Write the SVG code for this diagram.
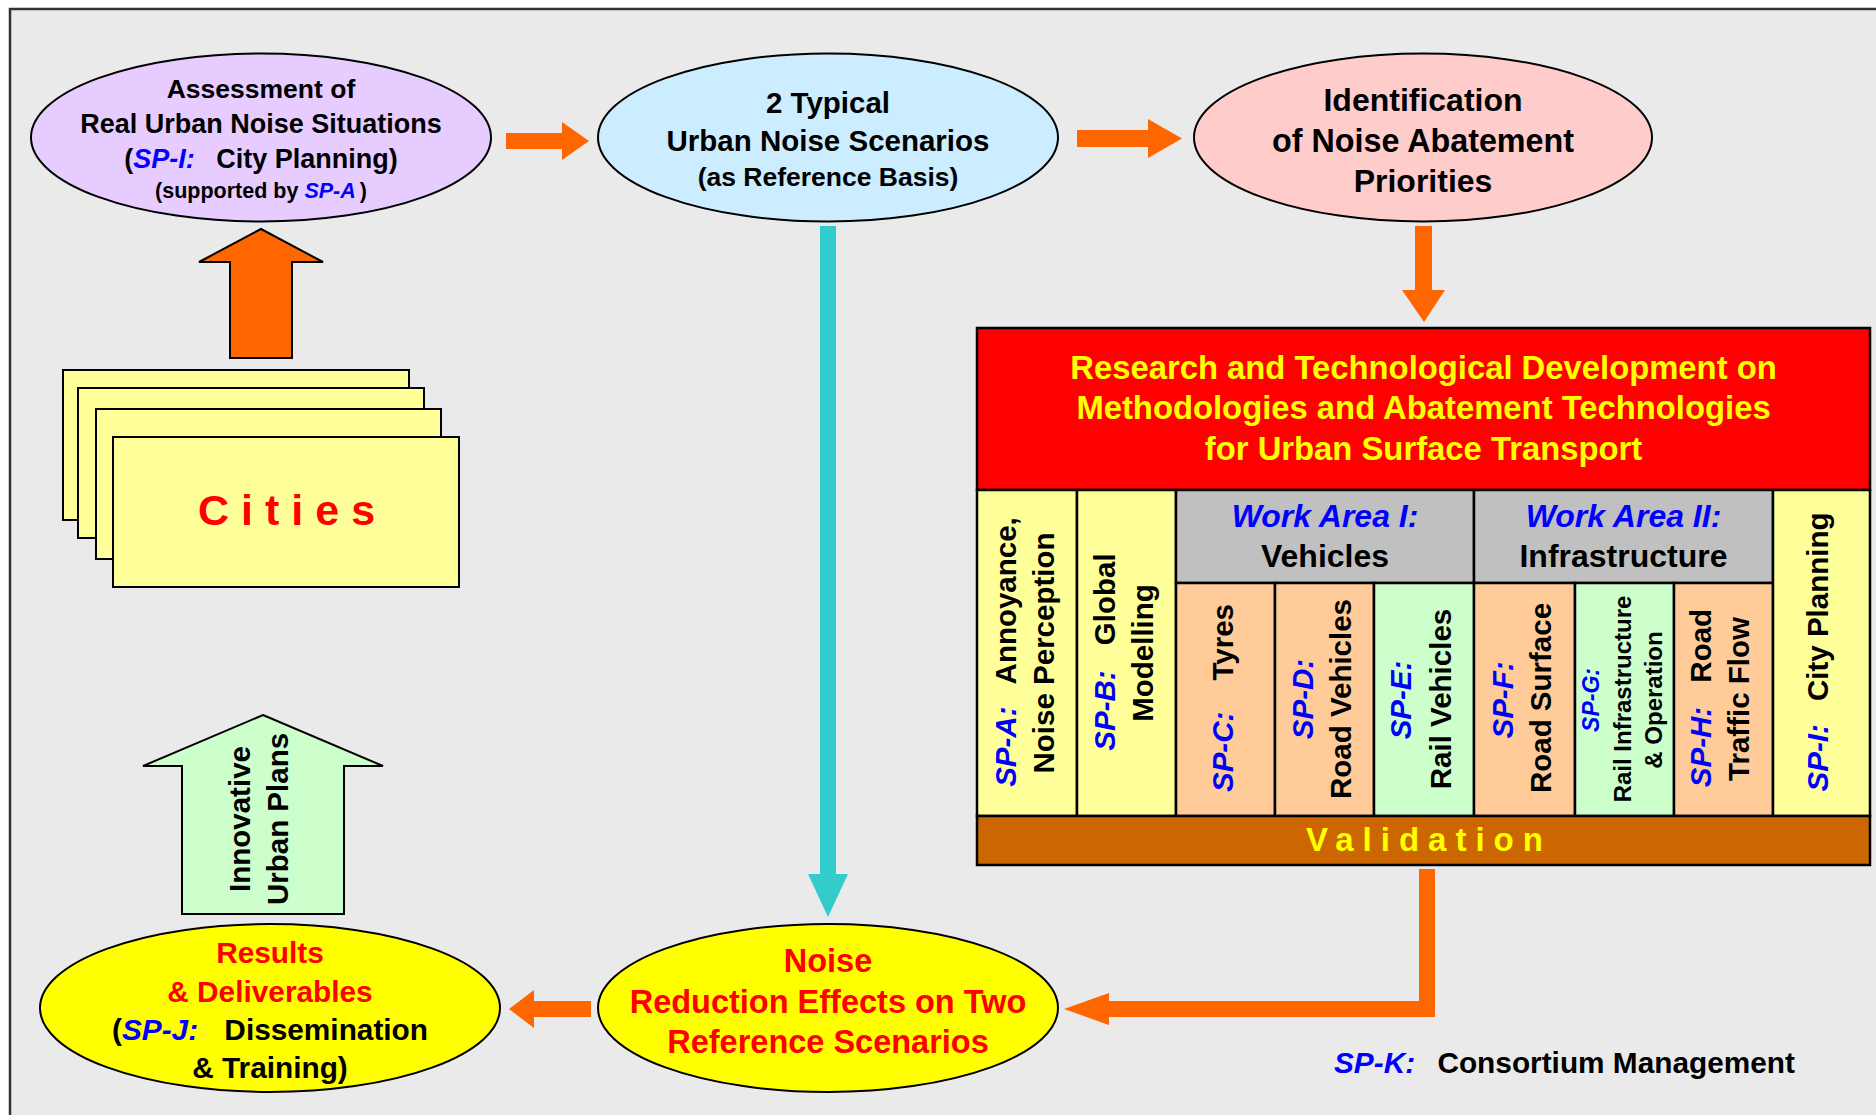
<svg xmlns="http://www.w3.org/2000/svg" width="1876" height="1115" viewBox="0 0 1876 1115">
<style>
text{font-family:"Liberation Sans",Arial,sans-serif;font-weight:bold;fill:#000}
.sp{fill:#0000FF;font-style:italic}
.red{fill:#FF0000}
.yel{fill:#FFFF00}
.nd{stroke:#000;stroke-width:2}
.cell{stroke:#000;stroke-width:2.5}
.or{fill:#FF6600}
.c29{font-size:29.5px}
</style>
<rect x="0" y="0" width="1876" height="1115" fill="#FFFFFF"/>
<rect x="10" y="9" width="1900" height="1200" fill="#EAEAEA" stroke="#333" stroke-width="2.5"/>

<g id="connectors">
  <polygon class="or" points="506,133 562,133 562,122 589,141 562,160 562,149 506,149"/>
  <polygon class="or" points="1077,130 1148,130 1148,119 1182,138.5 1148,158 1148,147 1077,147"/>
  <polygon class="or" points="1415,226 1432,226 1432,290 1445,290 1424,322 1402,290 1415,290"/>
  <polygon fill="#33CCCC" points="820,226 836,226 836,874 848,874 828,917 808,874 820,874"/>
  <polygon class="or" points="1419,869 1435,869 1435,1017 1109,1017 1109,1025 1064,1009 1109,993 1109,1001 1419,1001"/>
  <polygon class="or" points="591,1001 591,1017 534,1017 534,1028 509,1009 534,990 534,1001"/>
  <polygon class="or" stroke="#000" stroke-width="2" points="261,229 323,262 292,262 292,358 230,358 230,262 199,262"/>
  <g id="urban-plans-arrow">
    <polygon fill="#CCFFCC" stroke="#000" stroke-width="2" points="263,715 383,766 344,766 344,914 182,914 182,766 143,766"/>
    <text class="c29" text-anchor="middle" transform="translate(250,819) rotate(-90)">Innovative</text>
    <text class="c29" text-anchor="middle" transform="translate(288,819) rotate(-90)">Urban Plans</text>
  </g>
</g>

<g id="assessment">
  <ellipse class="nd" cx="261" cy="137.5" rx="230" ry="84" fill="#E6CCFF"/>
  <text x="261" y="98" font-size="26.5" text-anchor="middle">Assessment of</text>
  <text x="261" y="133" font-size="27" text-anchor="middle">Real Urban Noise Situations</text>
  <text x="261" y="168" font-size="27" text-anchor="middle">(<tspan class="sp">SP-I:</tspan><tspan dx="14"> City Planning)</tspan></text>
  <text x="261" y="198" font-size="21.5" text-anchor="middle">(supported by <tspan class="sp">SP-A</tspan><tspan dx="4">)</tspan></text>
</g>

<g id="scenarios">
  <ellipse class="nd" cx="828" cy="137.5" rx="230" ry="84" fill="#CCECFF"/>
  <text x="828" y="113" font-size="29.5" text-anchor="middle">2 Typical</text>
  <text x="828" y="151" font-size="29.5" text-anchor="middle">Urban Noise Scenarios</text>
  <text x="828" y="186" font-size="26.5" text-anchor="middle">(as Reference Basis)</text>
</g>

<g id="priorities">
  <ellipse class="nd" cx="1423" cy="137.5" rx="229" ry="84" fill="#FFCCCC"/>
  <text x="1423" y="111" font-size="32" text-anchor="middle">Identification</text>
  <text x="1423" y="152" font-size="32.3" text-anchor="middle">of Noise Abatement</text>
  <text x="1423" y="192" font-size="32" text-anchor="middle">Priorities</text>
</g>

<g id="cities">
  <rect class="nd" x="63" y="370" width="346" height="150" fill="#FFFF99"/>
  <rect class="nd" x="78" y="388" width="346" height="150" fill="#FFFF99"/>
  <rect class="nd" x="96" y="409" width="345" height="150" fill="#FFFF99"/>
  <rect class="nd" x="113" y="437" width="346" height="150" fill="#FFFF99"/>
  <text class="red" x="198" y="525" font-size="43" letter-spacing="12">Cities</text>
</g>

<g id="rtd-box">
  <rect class="cell" x="977" y="328" width="893" height="162" fill="#FF0000"/>
  <text class="yel" x="1423.5" y="379" font-size="32.8" text-anchor="middle">Research and Technological Development on</text>
  <text class="yel" x="1423.5" y="419" font-size="32.8" text-anchor="middle">Methodologies and Abatement Technologies</text>
  <text class="yel" x="1423.5" y="460" font-size="32.8" text-anchor="middle">for Urban Surface Transport</text>

  <g id="sp-a">
    <rect class="cell" x="977" y="490" width="100" height="326" fill="#FFFF99"/>
    <text class="c29" text-anchor="middle" transform="translate(1016,652) rotate(-90)"><tspan class="sp">SP-A:</tspan><tspan dx="15"> Annoyance,</tspan></text>
    <text class="c29" text-anchor="middle" transform="translate(1054,653) rotate(-90)">Noise Perception</text>
  </g>
  <g id="sp-b">
    <rect class="cell" x="1077" y="490" width="99" height="326" fill="#FFFF99"/>
    <text class="c29" text-anchor="middle" transform="translate(1115,652) rotate(-90)"><tspan class="sp">SP-B:</tspan><tspan dx="17"> Global</tspan></text>
    <text class="c29" text-anchor="middle" transform="translate(1153,653) rotate(-90)">Modelling</text>
  </g>
  <g id="work-area-1">
    <rect class="cell" x="1176" y="490" width="298" height="93" fill="#C0C0C0"/>
    <text class="sp" x="1325" y="527" font-size="32" text-anchor="middle">Work Area I:</text>
    <text x="1325" y="567" font-size="32" text-anchor="middle">Vehicles</text>
  </g>
  <g id="sp-c">
    <rect class="cell" x="1176" y="583" width="99" height="233" fill="#FFCC99"/>
    <text class="c29" text-anchor="middle" transform="translate(1233,698) rotate(-90)"><tspan class="sp">SP-C:</tspan><tspan dx="23"> Tyres</tspan></text>
  </g>
  <g id="sp-d">
    <rect class="cell" x="1275" y="583" width="99" height="233" fill="#FFCC99"/>
    <text class="c29 sp" text-anchor="middle" transform="translate(1313,699) rotate(-90)">SP-D:</text>
    <text class="c29" text-anchor="middle" transform="translate(1351,699) rotate(-90)">Road Vehicles</text>
  </g>
  <g id="sp-e">
    <rect class="cell" x="1374" y="583" width="100" height="233" fill="#CCFFCC"/>
    <text class="c29 sp" text-anchor="middle" transform="translate(1411,700) rotate(-90)">SP-E:</text>
    <text class="c29" text-anchor="middle" transform="translate(1451,699) rotate(-90)">Rail Vehicles</text>
  </g>
  <g id="work-area-2">
    <rect class="cell" x="1474" y="490" width="299" height="93" fill="#C0C0C0"/>
    <text class="sp" x="1623.5" y="527" font-size="32" text-anchor="middle">Work Area II:</text>
    <text x="1623.5" y="567" font-size="32" text-anchor="middle">Infrastructure</text>
  </g>
  <g id="sp-f">
    <rect class="cell" x="1474" y="583" width="101" height="233" fill="#FFCC99"/>
    <text class="c29 sp" text-anchor="middle" transform="translate(1513,700) rotate(-90)">SP-F:</text>
    <text class="c29" text-anchor="middle" transform="translate(1551,698) rotate(-90)">Road Surface</text>
  </g>
  <g id="sp-g">
    <rect class="cell" x="1575" y="583" width="99" height="233" fill="#CCFFCC"/>
    <text class="sp" font-size="23" text-anchor="middle" transform="translate(1599,700) rotate(-90)">SP-G:</text>
    <text font-size="24" text-anchor="middle" transform="translate(1631,699) rotate(-90)">Rail Infrastructure</text>
    <text font-size="24" text-anchor="middle" transform="translate(1662,700) rotate(-90)">&amp; Operation</text>
  </g>
  <g id="sp-h">
    <rect class="cell" x="1674" y="583" width="99" height="233" fill="#FFCC99"/>
    <text class="c29" text-anchor="middle" transform="translate(1711,698) rotate(-90)"><tspan class="sp">SP-H:</tspan><tspan dx="16"> Road</tspan></text>
    <text class="c29" text-anchor="middle" transform="translate(1749,699) rotate(-90)">Traffic Flow</text>
  </g>
  <g id="sp-i">
    <rect class="cell" x="1773" y="490" width="97" height="326" fill="#FFFF99"/>
    <text class="c29" text-anchor="middle" transform="translate(1828,652) rotate(-90)"><tspan class="sp">SP-I:</tspan><tspan dx="15"> City Planning</tspan></text>
  </g>
  <g id="validation">
    <rect class="cell" x="977" y="816" width="893" height="49" fill="#CC6600"/>
    <text class="yel" x="1429" y="851" font-size="33" letter-spacing="9" text-anchor="middle">Validation</text>
  </g>
</g>

<g id="noise-reduction">
  <ellipse class="nd" cx="828" cy="1008" rx="230" ry="84" fill="#FFFF00"/>
  <text class="red" x="828" y="972" font-size="32.5" text-anchor="middle">Noise</text>
  <text class="red" x="828" y="1013" font-size="32.5" text-anchor="middle">Reduction Effects on Two</text>
  <text class="red" x="828" y="1053" font-size="32.5" text-anchor="middle">Reference Scenarios</text>
</g>

<g id="results">
  <ellipse class="nd" cx="270" cy="1008" rx="230" ry="84" fill="#FFFF00"/>
  <text class="red" x="270" y="963" font-size="29.8" text-anchor="middle">Results</text>
  <text class="red" x="270" y="1002" font-size="29.8" text-anchor="middle">&amp; Deliverables</text>
  <text x="270" y="1040" font-size="29.8" text-anchor="middle">(<tspan class="sp">SP-J:</tspan><tspan dx="18"> Dissemination</tspan></text>
  <text x="270" y="1078" font-size="29.8" text-anchor="middle">&amp; Training)</text>
</g>

<g id="consortium">
  <text x="1334" y="1073" font-size="29.8"><tspan class="sp">SP-K:</tspan><tspan dx="14"> Consortium Management</tspan></text>
</g>
</svg>
